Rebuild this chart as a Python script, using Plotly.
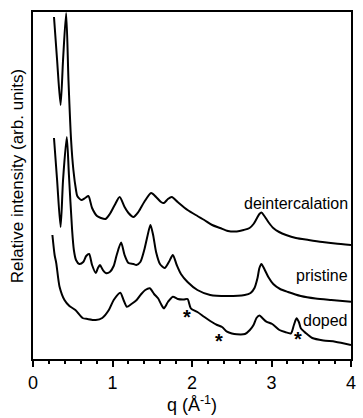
import plotly.graph_objects as go

# q (1/Angstrom) and relative intensity (arb. units)
deint_q = [0.264, 0.303, 0.347, 0.378, 0.417, 0.446, 0.479, 0.508, 0.541, 0.557, 0.607, 0.656,
           0.697, 0.743, 0.805, 0.854, 0.913, 0.966, 1.028, 1.090, 1.152, 1.201, 1.263, 1.325,
           1.399, 1.486, 1.548, 1.610, 1.647, 1.697, 1.746, 1.820, 1.944, 2.068, 2.155, 2.254,
           2.353, 2.452, 2.563, 2.650, 2.724, 2.774, 2.811, 2.848, 2.873, 2.910, 2.960, 3.022,
           3.096, 3.183, 3.307, 3.467, 3.641, 3.802, 4.0]
deint_I = [342, 299, 254, 299, 346, 279, 219, 189, 169, 163, 159, 161,
           163, 151, 143, 141, 140, 145, 154, 162, 152, 146, 142, 147,
           157, 166, 162, 157, 156, 160, 162, 157, 149, 143, 139, 134,
           131, 128, 127.5, 129, 131, 135, 140, 145, 146.5, 143, 137, 131,
           127, 124, 121, 119, 117, 115.5, 114]

prist_q = [0.264, 0.303, 0.347, 0.378, 0.425, 0.452, 0.492, 0.514, 0.541, 0.582, 0.632, 0.669,
           0.706, 0.743, 0.789, 0.817, 0.842, 0.879, 0.916, 0.966, 1.015, 1.053, 1.108, 1.152,
           1.201, 1.263, 1.300, 1.350, 1.399, 1.437, 1.477, 1.511, 1.548, 1.597, 1.656, 1.709,
           1.759, 1.808, 1.861, 1.944, 2.068, 2.229, 2.440, 2.663, 2.737, 2.786, 2.824, 2.848,
           2.873, 2.910, 2.960, 3.022, 3.108, 3.207, 3.368, 3.554, 3.752, 4.0]
prist_I = [221, 179, 132, 179, 222, 184, 129, 109, 99, 95, 97, 103,
           105, 94, 86, 91, 94, 89, 86, 87, 93, 104, 116.5, 104,
           96, 95, 94, 97, 109, 122, 134, 124, 107, 95, 91, 97,
           104, 94, 85, 77, 69, 64, 63, 64, 66, 71, 81, 91,
           95, 90, 82, 75, 70, 67, 63, 60.5, 59, 57.3]

doped_q = [0.244, 0.272, 0.293, 0.334, 0.396, 0.458, 0.533, 0.623, 0.685, 0.789, 0.871, 0.954,
           1.015, 1.098, 1.139, 1.180, 1.238, 1.304, 1.362, 1.412, 1.470, 1.523, 1.573, 1.610,
           1.647, 1.697, 1.759, 1.821, 1.895, 1.944, 1.985, 2.068, 2.151, 2.229, 2.316, 2.378,
           2.440, 2.501, 2.563, 2.666, 2.728, 2.774, 2.811, 2.848, 2.885, 2.935, 3.009, 3.100,
           3.170, 3.245, 3.282, 3.315, 3.344, 3.369, 3.430, 3.513, 3.653, 3.802, 4.0]
doped_I = [124, 104, 95.7, 72.3, 59, 53, 49, 41, 40, 39, 41, 49,
           59, 66.3, 59, 52.3, 55, 59, 65, 69, 70.7, 65, 60.7, 55,
           50.7, 57, 62.3, 60, 59.5, 60, 50.7, 47, 42.3, 38, 34, 32,
           27.3, 25.5, 24.7, 25, 29, 34, 41, 43.5, 41, 37.3, 35, 29,
           27, 25.7, 34, 40.7, 37, 30.7, 26, 21, 18.5, 17.3, 14]

# impurity markers (*)
star_q = [1.935, 2.344, 3.331]
star_I = [46, 22, 24]

# curve labels
label_text = ["deintercalation", "pristine", "doped"]
label_I = [156, 84, 39]

x_ticks = [0, 1, 2, 3, 4]

FONT = "Liberation Sans, Arial, sans-serif"
fig = go.Figure()
for qs, Is in [(deint_q, deint_I), (prist_q, prist_I), (doped_q, doped_I)]:
    fig.add_trace(go.Scatter(x=qs, y=Is, mode="lines",
                             line=dict(color="black", width=2, shape="spline", smoothing=0.7),
                             showlegend=False, hoverinfo="skip"))

for q, I in zip(star_q, star_I):
    fig.add_annotation(x=q, y=I, text="<b>*</b>", showarrow=False, xanchor="center", yanchor="middle",
                       yshift=-4, font=dict(family=FONT, size=20, color="black"))

for t, I in zip(label_text, label_I):
    fig.add_annotation(x=4, y=I, text=t, showarrow=False, xanchor="right", yanchor="middle",
                       xshift=-1, font=dict(family=FONT, size=16, color="black"))

# y-axis title as rotated annotation (positioned like the reference)
fig.add_annotation(xref="paper", yref="paper", x=-0.05, y=0.527, text="Relative intensity (arb. units)",
                   textangle=-90, showarrow=False, xanchor="center", yanchor="middle",
                   font=dict(family=FONT, size=17, color="black"))

fig.update_layout(
    width=363, height=418,
    margin=dict(l=33, r=7, t=12, b=59),
    paper_bgcolor="white", plot_bgcolor="white",
    font=dict(family=FONT, color="black"),
    xaxis=dict(range=[0, 4], tickvals=x_ticks, ticktext=[str(v) for v in x_ticks],
               ticks="outside", ticklen=6, tickwidth=1.5, tickcolor="black",
               minor=dict(dtick=0.2, ticks="outside", ticklen=3, tickwidth=1.5, tickcolor="black"),
               showline=True, linewidth=2, linecolor="black", mirror=True,
               showgrid=False, zeroline=False,
               tickfont=dict(size=18, family=FONT),
               title=dict(text="q (Å<sup>-1</sup>)", font=dict(size=18, family=FONT), standoff=2)),
    yaxis=dict(range=[0, 347], showticklabels=False, ticks="",
               showline=True, linewidth=2, linecolor="black", mirror=True,
               showgrid=False, zeroline=False),
)

fig.write_html("out.html")
